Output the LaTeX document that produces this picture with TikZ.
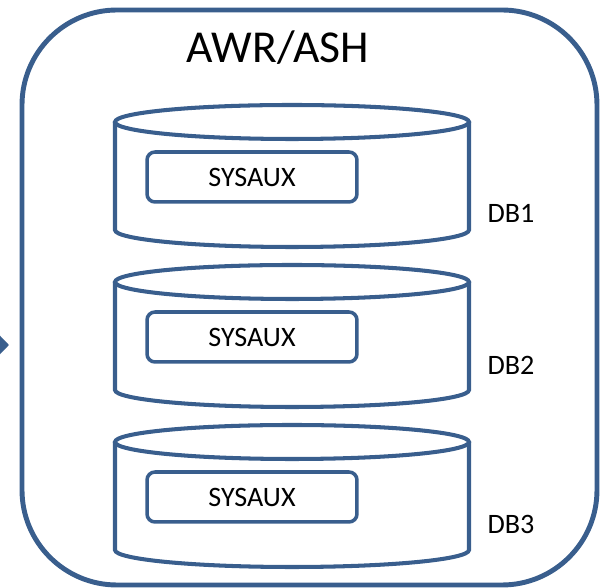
\documentclass[tikz,border=0pt]{standalone}
\usepackage{fontspec}
\setmainfont{Carlito}
\usepackage{tikz}
\usetikzlibrary{arrows.meta}
\definecolor{diskblue}{RGB}{57,94,141}

\begin{document}
\begin{tikzpicture}[x=0.02cm, y=0.02cm,
		frame/.style={draw=diskblue, line width=2.8pt, rounded corners=1.9cm},
		disk/.style={draw=diskblue, line width=2.3pt},
		tbs/.style={draw=diskblue, line width=2pt, rounded corners=0.16cm,
			minimum width=4.2cm, minimum height=1cm, font=\fontsize{16}{19}\selectfont},
		dblabel/.style={font=\fontsize{16}{19}\selectfont}]
		\useasboundingbox (0,0) rectangle (606,588);
		\clip (0,0) rectangle (606,588);
		% Frame and title:
		\draw[frame] (22,3) rectangle (597,578);
		\node[font=\fontsize{26}{31}\selectfont] (title) at (278,540) {AWR/ASH};
		% Incoming arrow, cut by the left edge:
		\coordinate (src) at (-40,243);
		\coordinate (dst) at (9,243);
		\draw[diskblue, line width=2pt, -{Triangle[length=0.24cm, width=0.48cm]}] (src) -- (dst);
		% Databases, each with its SYSAUX tablespace:
		\foreach \n/\yc/\yl in {1/466/375, 2/306/223, 3/146/64} {
			\draw[disk] (115,\yc) -- (115,\yc-108)
				arc[start angle=180, end angle=360, x radius=177, y radius=17] -- (469,\yc);
			\draw[disk] (292,\yc) ellipse[x radius=177, y radius=17];
			\node[tbs] (sys\n) at (252,\yc-55) {SYSAUX\hspace{0.25cm}};
			\node[dblabel] (db\n) at (511,\yl) {DB\n};
		}
	\end{tikzpicture}
\end{document}
